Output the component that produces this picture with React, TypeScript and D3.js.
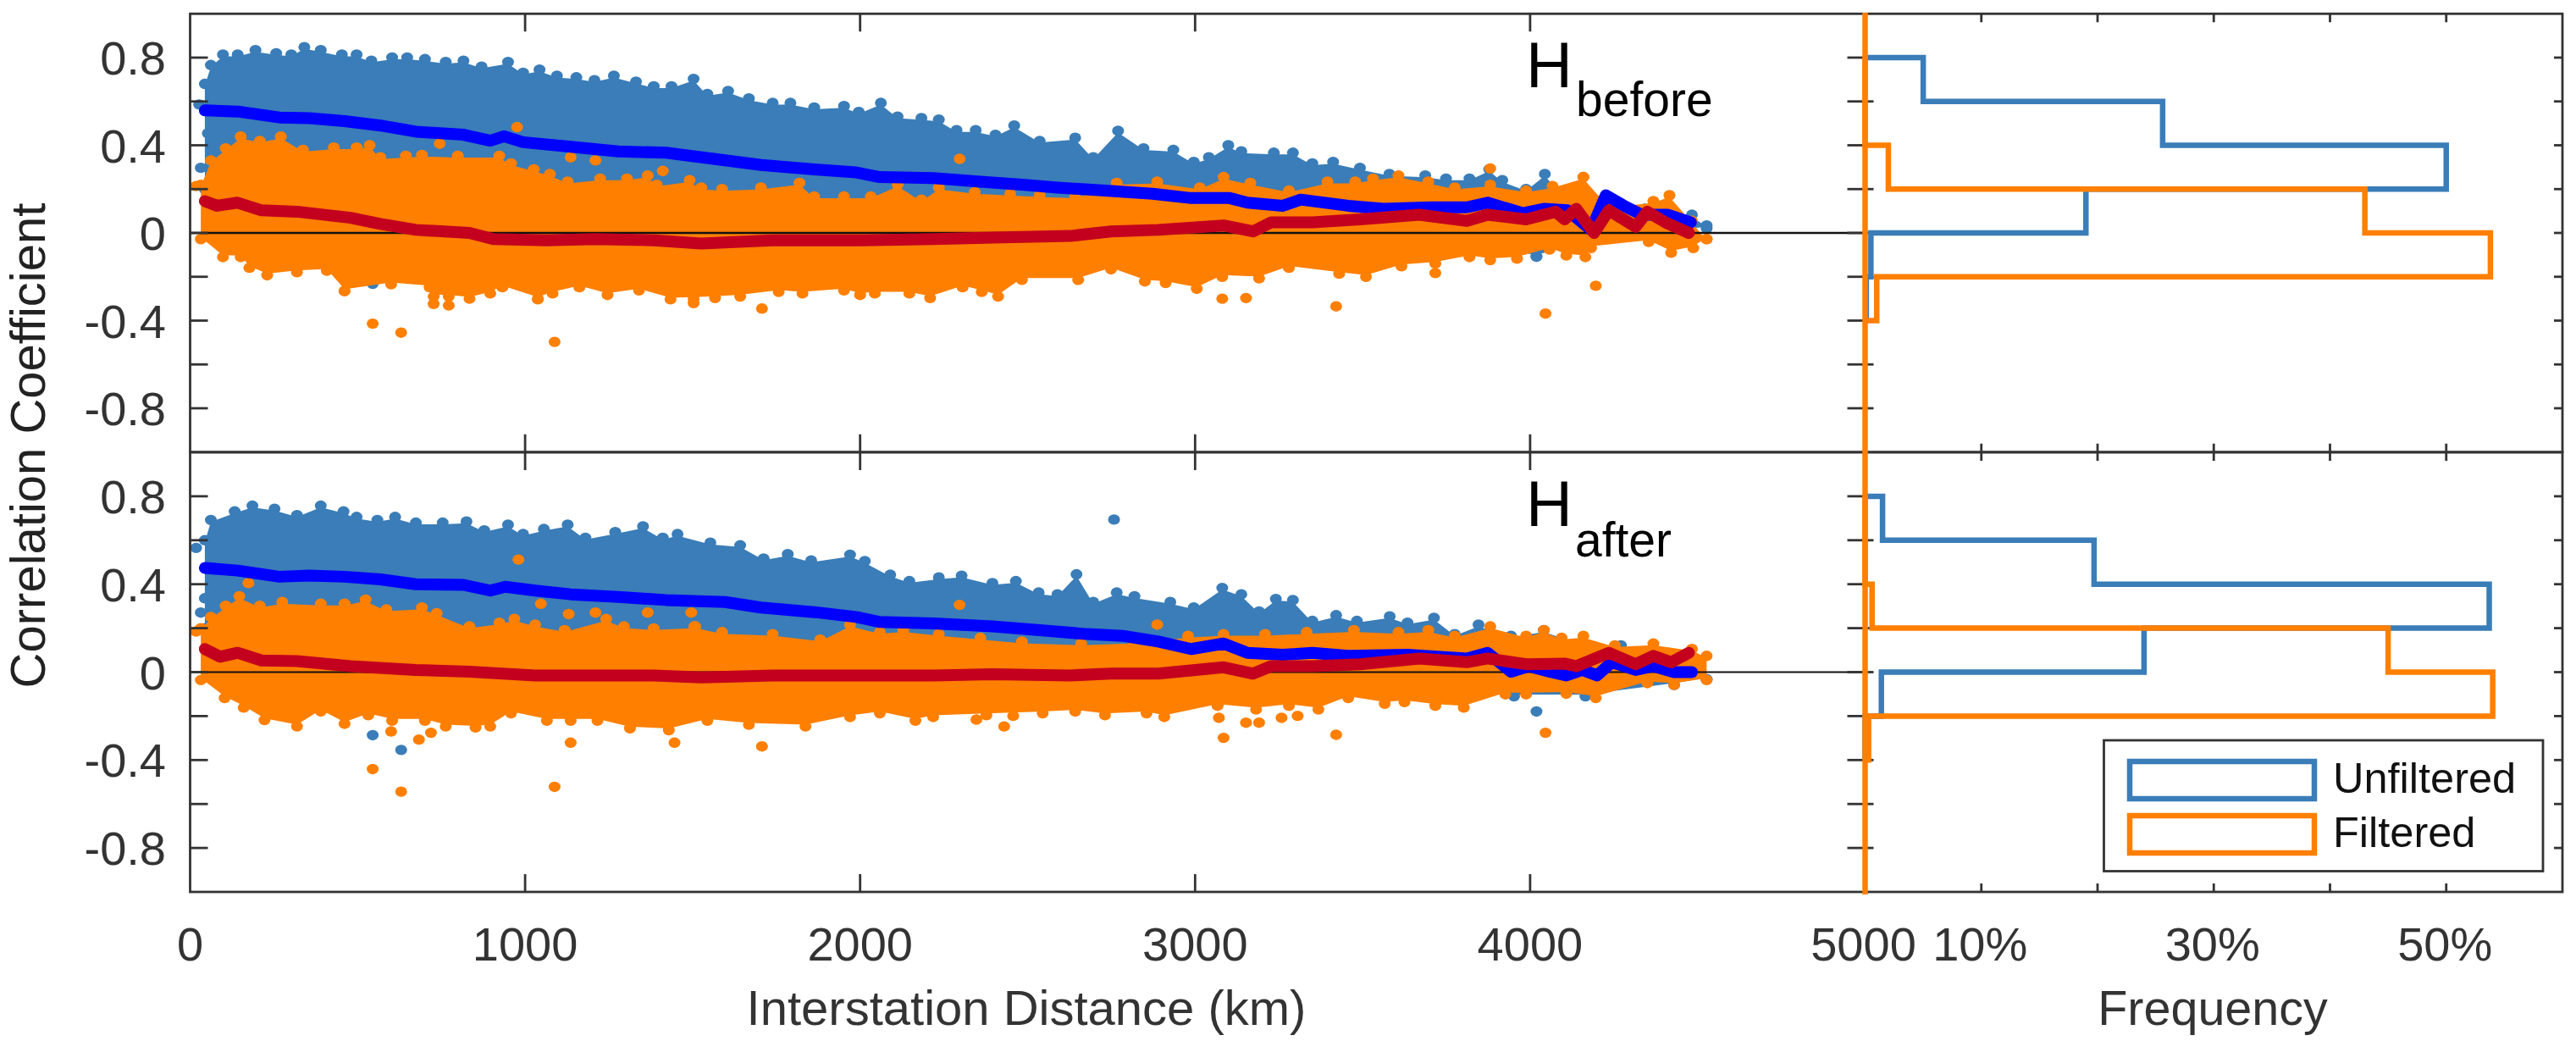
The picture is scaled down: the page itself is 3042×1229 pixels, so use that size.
import React from "react";
import * as d3 from "d3";

type Pt = [number, number];

const colors = { blue: "#3a7db8", orange: "#ff7f00", lineBlue: "#0000ff", lineRed: "#c4001f", ink: "#333333" };

// H before: edges of the point clouds [km, r]
const beforeBlueTop: Pt[] = [[44,.68],[62,.766],[98,.814],[142,.814],[195,.834],[257,.82],[302,.814],[341,.848],[390,.834],[453,.814],[497,.814],[541,.786],[603,.8],[648,.8],[701,.793],[763,.78],[816,.786],[870,.759],[949,.78],[994,.731],[1043,.745],[1095,.717],[1153,.71],[1207,.697],[1265,.717],[1331,.69],[1384,.669],[1437,.669],[1503,.703],[1544,.634],[1606,.648],[1668,.614],[1739,.593],[1792,.593],[1863,.572],[1952,.579],[1996,.552],[2062,.593],[2112,.531],[2183,.524],[2235,.517],[2288,.469],[2345,.469],[2404,.448],[2460,.49],[2536,.42],[2642,.434],[2696,.345],[2770,.466],[2846,.386],[2935,.379],[2996,.324],[3041,.345],[3099,.4],[3138,.372],[3235,.366],[3292,.366],[3350,.317],[3412,.324],[3492,.297],[3580,.269],[3687,.262],[3749,.248],[3819,.248],[3878,.29],[3917,.241],[3988,.2],[4044,.269],[4094,.179],[4159,.193],[4235,.166],[4342,.11],[4412,.11],[4483,.083],[4527,.034]];
const beforeBlueBottom: Pt[] = [[44,.2],[500,-.1],[3000,-.1],[3700,-.06],[3900,-.08],[4019,-.108],[4200,-.03],[4527,.02]];
const beforeOrangeTop: Pt[] = [[32,.22],[62,.331],[106,.386],[151,.44],[208,.42],[271,.44],[337,.379],[429,.39],[497,.39],[536,.4],[568,.345],[644,.352],[692,.356],[799,.352],[923,.352],[958,.317],[1026,.29],[1074,.269],[1127,.234],[1224,.248],[1304,.248],[1366,.262],[1393,.22],[1491,.241],[1526,.207],[1588,.2],[1704,.207],[1819,.228],[1863,.166],[1952,.166],[2032,.166],[2112,.22],[2183,.152],[2235,.207],[2342,.186],[2448,.179],[2536,.172],[2642,.166],[2766,.228],[2887,.234],[3014,.207],[3085,.255],[3165,.228],[3280,.193],[3395,.234],[3478,.234],[3531,.248],[3607,.262],[3696,.234],[3775,.207],[3881,.22],[3988,.193],[4067,.214],[4159,.255],[4235,.124],[4368,.145],[4416,.172],[4483,.055],[4527,-.028]];
const beforeOrangeBottom: Pt[] = [[32,-.028],[98,-.11],[151,-.11],[177,-.159],[230,-.193],[319,-.179],[408,-.172],[461,-.265],[600,-.234],[715,-.248],[727,-.29],[772,-.29],[834,-.3],[896,-.276],[932,-.248],[1038,-.3],[1082,-.276],[1162,-.248],[1246,-.283],[1340,-.262],[1434,-.303],[1503,-.3],[1567,-.297],[1642,-.29],[1757,-.269],[1828,-.276],[1952,-.262],[2000,-.283],[2044,-.276],[2147,-.276],[2209,-.297],[2306,-.248],[2363,-.269],[2412,-.29],[2483,-.214],[2651,-.214],[2749,-.166],[2850,-.221],[2912,-.228],[3005,-.255],[3081,-.2],[3191,-.207],[3280,-.159],[3430,-.186],[3510,-.2],[3616,-.152],[3717,-.14],[3819,-.11],[3881,-.124],[3961,-.117],[4058,-.076],[4108,-.103],[4165,-.11],[4182,-.069],[4354,-.041],[4421,-.09],[4487,-.069],[4527,-.028]];
const beforeBlueStray: Pt[] = [[27,.586],[53,.455],[32,.297],[545,-.232],[4019,-.108]];
const beforeOrangeStray: Pt[] = [[18,.214],[745,.407],[976,.483],[1136,.345],[1210,.331],[1411,.283],[2297,.338],[3881,.294],[4159,.255],[545,-.414],[630,-.455],[1088,-.497],[727,-.324],[772,-.331],[1038,-.303],[1503,-.32],[1707,-.345],[3081,-.3],[3152,-.297],[3421,-.335],[3717,-.183],[4046,-.368],[4196,-.241],[461,-.265]];
const beforeBlueMean: Pt[] = [[44,.559],[142,.554],[266,.527],[355,.524],[461,.51],[568,.49],[674,.462],[816,.448],[896,.421],[937,.441],[994,.414],[1136,.393],[1278,.372],[1420,.366],[1562,.338],[1704,.31],[1863,.29],[1988,.276],[2059,.255],[2218,.25],[2359,.234],[2483,.22],[2589,.207],[2731,.193],[2873,.179],[2988,.159],[3103,.159],[3156,.138],[3262,.124],[3315,.152],[3457,.124],[3563,.11],[3704,.117],[3811,.117],[3873,.138],[3979,.09],[4041,.11],[4112,.103],[4182,.014],[4226,.172],[4280,.124],[4333,.083],[4412,.083],[4480,.048]];
const beforeRedMean: Pt[] = [[44,.145],[80,.124],[142,.138],[213,.103],[319,.097],[479,.069],[568,.041],[674,.014],[834,0],[905,-.028],[1065,-.034],[1207,-.028],[1384,-.034],[1526,-.048],[1739,-.034],[2005,-.034],[2218,-.028],[2395,-.021],[2627,-.014],[2749,.007],[2890,.014],[3085,.034],[3173,.007],[3227,.048],[3350,.048],[3492,.062],[3669,.083],[3811,.055],[3873,.083],[3988,.062],[4076,.097],[4103,.062],[4138,.11],[4191,0],[4235,.103],[4315,.028],[4350,.097],[4404,.048],[4474,0]];

// H after
const afterBlueTop: Pt[] = [[44,.6],[62,.692],[133,.731],[186,.757],[252,.743],[319,.714],[390,.757],[458,.731],[497,.706],[559,.692],[612,.706],[674,.68],[754,.68],[825,.685],[878,.645],[949,.671],[994,.628],[1056,.651],[1127,.671],[1180,.611],[1269,.637],[1352,.663],[1411,.611],[1455,.628],[1553,.589],[1642,.577],[1712,.517],[1784,.537],[1854,.508],[1970,.534],[2014,.505],[2090,.443],[2147,.414],[2235,.431],[2303,.439],[2395,.405],[2465,.414],[2533,.362],[2589,.354],[2646,.445],[2696,.319],[2766,.362],[2819,.345],[2926,.319],[2996,.294],[3081,.383],[3138,.354],[3191,.276],[3241,.333],[3292,.328],[3350,.233],[3421,.259],[3483,.233],[3581,.254],[3634,.225],[3713,.247],[3775,.173],[3846,.216],[3943,.165],[4041,.191],[4156,.13],[4271,.122],[4412,.088],[4492,.062],[4527,-.033]];
const afterBlueBottom: Pt[] = [[44,.2],[500,-.1],[3000,-.1],[3731,-.11],[3952,-.11],[4165,-.11],[4430,-.058],[4527,-.033]];
const afterOrangeTop: Pt[] = [[32,.2],[62,.251],[106,.302],[147,.345],[208,.302],[275,.319],[390,.311],[461,.311],[524,.33],[586,.285],[692,.294],[736,.268],[834,.208],[923,.225],[968,.242],[1030,.216],[1118,.191],[1242,.242],[1295,.208],[1384,.199],[1508,.208],[1588,.182],[1739,.173],[1881,.148],[1970,.216],[2059,.182],[2129,.191],[2235,.173],[2359,.156],[2483,.139],[2660,.13],[2819,.139],[2979,.165],[3085,.173],[3209,.173],[3333,.182],[3474,.191],[3607,.182],[3696,.191],[3775,.165],[3881,.208],[3988,.165],[4041,.191],[4094,.156],[4159,.165],[4253,.122],[4368,.13],[4483,.105],[4527,.074]];
const afterOrangeBottom: Pt[] = [[32,-.036],[103,-.118],[160,-.161],[222,-.218],[319,-.247],[390,-.179],[461,-.235],[532,-.196],[603,-.221],[701,-.221],[763,-.247],[852,-.252],[896,-.247],[958,-.187],[1065,-.221],[1136,-.221],[1216,-.221],[1313,-.256],[1429,-.264],[1544,-.221],[1668,-.239],[1837,-.247],[1970,-.204],[2059,-.187],[2165,-.221],[2218,-.204],[2377,-.196],[2545,-.187],[2642,-.179],[2731,-.196],[2855,-.187],[2908,-.204],[3067,-.153],[3182,-.17],[3280,-.153],[3368,-.17],[3457,-.118],[3566,-.144],[3625,-.136],[3717,-.153],[3802,-.161],[3926,-.101],[3988,-.101],[4108,-.098],[4196,-.118],[4350,-.05],[4430,-.058],[4527,-.036]];
const afterBlueStray: Pt[] = [[18,.565],[44,.336],[32,.271],[2758,.694],[4019,-.179],[545,-.287],[630,-.354],[3067,-.149]];
const afterOrangeStray: Pt[] = [[18,.185],[174,.405],[980,.512],[1047,.311],[1130,.264],[1210,.271],[1366,.271],[1496,.271],[1505,.208],[545,-.441],[630,-.544],[1088,-.522],[1136,-.321],[1446,-.321],[1707,-.338],[683,-.307],[719,-.276],[600,-.27],[2297,.306],[2887,.216],[3085,-.299],[3071,-.208],[3152,-.23],[3191,-.23],[3258,-.208],[3306,-.199],[3421,-.285],[4046,-.276],[2430,-.247],[2347,-.216],[2457,-.199]];
const afterBlueMean: Pt[] = [[44,.474],[142,.462],[266,.434],[355,.439],[461,.434],[568,.422],[674,.4],[816,.397],[896,.371],[941,.388],[1030,.371],[1136,.354],[1278,.342],[1420,.328],[1597,.319],[1704,.294],[1863,.273],[1988,.251],[2059,.228],[2218,.222],[2395,.208],[2536,.191],[2677,.173],[2784,.165],[2890,.139],[2988,.105],[3085,.13],[3156,.088],[3262,.079],[3350,.088],[3457,.074],[3634,.079],[3811,.062],[3873,.088],[3943,.002],[3996,.027],[4058,.002],[4108,-.015],[4156,.01],[4200,-.015],[4244,.045],[4315,.01],[4368,.027],[4430,0],[4483,0]];
const afterRedMean: Pt[] = [[44,.105],[89,.07],[142,.088],[213,.053],[319,.05],[479,.027],[674,.01],[834,.002],[1030,-.015],[1207,-.015],[1384,-.015],[1526,-.024],[1739,-.015],[2005,-.015],[2218,-.015],[2395,-.01],[2627,-.015],[2749,-.007],[2890,-.007],[3085,.022],[3173,-.007],[3227,.027],[3350,.027],[3492,.036],[3669,.062],[3811,.045],[3873,.062],[3988,.036],[4103,.039],[4138,.027],[4235,.088],[4315,.036],[4368,.074],[4421,.045],[4474,.088]];

// histogram bins, each covers [lo, lo + 0.2], percent of pairs
const binLows = [0.6, 0.4, 0.2, 0, -0.2, -0.4];
const beforeUnfiltered = [5, 25.6, 50, 19, 0.5, 0.1];
const beforeFiltered = [0, 0, 2, 43, 53.8, 1];
const afterUnfiltered = [1.5, 19.7, 53.7, 24, 1.4, 0];
const afterFiltered = [0, 0, 0.6, 45, 54, 0.3];

const xTicks = [0, 1000, 2000, 3000, 4000, 5000];
const yTicks = [0.8, 0.6, 0.4, 0.2, 0, -0.2, -0.4, -0.6, -0.8];
const yLabels = [0.8, 0.4, 0, -0.4, -0.8];
const pctTicks = [10, 20, 30, 40, 50];
const pctLabels = [10, 30, 50];

const font = "'Liberation Sans', Arial, sans-serif";
const x = d3.scaleLinear().domain([0, 5000]).range([224.5, 2202.5]);
const pct = d3.scaleLinear().domain([0, 60]).range([2202.5, 3026]);

function histPoints(values: number[], y: any) {
  const pts: Pt[] = [[pct(0), y(0.8)]];
  binLows.forEach((lo, i) => {
    pts.push([pct(values[i]), y(lo + 0.2)], [pct(values[i]), y(lo)]);
  });
  pts.push([pct(0), y(-0.4)]);
  return pts;
}

function Dots({ data, color, y }: { data: Pt[]; color: string; y: any }) {
  return (
    <g>
      {data.map((d, i) => (
        <ellipse key={i} cx={x(d[0])} cy={y(d[1])} rx={7} ry={6.2} fill={color} />
      ))}
    </g>
  );
}

function Cloud({ top, bottom, color, y }: { top: Pt[]; bottom: Pt[]; color: string; y: any }) {
  // body sits a little inside the edge readings so the edge dots stick out of it
  const edge: Pt[] = [
    ...top.map((d): Pt => [x(d[0]), y(d[1]) + 2]),
    ...[...bottom].reverse().map((d): Pt => [x(d[0]), y(d[1]) - 2]),
  ];
  return (
    <g>
      <path d={d3.line()(edge) as string} fill={color} />
      <Dots data={top} color={color} y={y} />
      <Dots data={bottom} color={color} y={y} />
    </g>
  );
}

function Panel(props: {
  y: any;
  blueTop: Pt[];
  blueBottom: Pt[];
  orangeTop: Pt[];
  orangeBottom: Pt[];
  blueStray: Pt[];
  orangeStray: Pt[];
  blueMean: Pt[];
  redMean: Pt[];
  unfiltered: number[];
  filtered: number[];
  zeroWidth: number;
}) {
  const { y } = props;
  const meanLine = d3.line<Pt>().x((d) => x(d[0])).y((d) => y(d[1]));
  const top = y(1);
  const bottom = y(-1);
  return (
    <g>
      <Cloud top={props.blueTop} bottom={props.blueBottom} color={colors.blue} y={y} />
      <Dots data={props.blueStray} color={colors.blue} y={y} />
      <Cloud top={props.orangeTop} bottom={props.orangeBottom} color={colors.orange} y={y} />
      <Dots data={props.orangeStray} color={colors.orange} y={y} />
      <line x1={x(0)} x2={x(5000)} y1={y(0)} y2={y(0)} stroke="#111" strokeWidth={props.zeroWidth} />
      <path d={meanLine(props.blueMean) as string} fill="none" stroke={colors.lineBlue} strokeWidth={14} strokeLinejoin="round" strokeLinecap="round" />
      <path d={meanLine(props.redMean) as string} fill="none" stroke={colors.lineRed} strokeWidth={14} strokeLinejoin="round" strokeLinecap="round" />

      <g stroke={colors.ink} strokeWidth={2.8}>
        <rect x={x(0)} y={top} width={pct(60) - x(0)} height={bottom - top} fill="none" />
        <line x1={x(5000)} x2={x(5000)} y1={top} y2={bottom} />
        {xTicks.slice(1, 5).map((t) => (
          <g key={t}>
            <line x1={x(t)} x2={x(t)} y1={top} y2={top + 21} />
            <line x1={x(t)} x2={x(t)} y1={bottom} y2={bottom - 21} />
          </g>
        ))}
        {pctTicks.map((t) => (
          <g key={t}>
            <line x1={pct(t)} x2={pct(t)} y1={top} y2={top + 10} />
            <line x1={pct(t)} x2={pct(t)} y1={bottom} y2={bottom - 10} />
          </g>
        ))}
        {yTicks.map((t) => (
          <g key={t}>
            <line x1={x(0)} x2={x(0) + 21} y1={y(t)} y2={y(t)} />
            <line x1={x(5000) - 21} x2={x(5000) + 10} y1={y(t)} y2={y(t)} />
            <line x1={pct(60) - 10} x2={pct(60)} y1={y(t)} y2={y(t)} />
          </g>
        ))}
      </g>

      <path d={d3.line()(histPoints(props.unfiltered, y)) as string} fill="none" stroke={colors.blue} strokeWidth={6.5} />
      <path d={d3.line()(histPoints(props.filtered, y)) as string} fill="none" stroke={colors.orange} strokeWidth={6.5} />

      {yLabels.map((t) => (
        <text key={t} x={196} y={y(t)} dy="0.36em" textAnchor="end" fontSize={56} fill={colors.ink}>
          {t}
        </text>
      ))}
    </g>
  );
}

export default function App() {
  const yBefore = d3.scaleLinear().domain([-1, 1]).range([533.75, 16.25]);
  const yAfter = d3.scaleLinear().domain([-1, 1]).range([1053, 534]);
  return (
    <svg width={3042} height={1229} style={{ position: "absolute", left: 0, top: 0 }} fontFamily={font}>
      <rect width={3042} height={1229} fill="#fff" />
      <Panel
        y={yBefore}
        blueTop={beforeBlueTop}
        blueBottom={beforeBlueBottom}
        orangeTop={beforeOrangeTop}
        orangeBottom={beforeOrangeBottom}
        blueStray={beforeBlueStray}
        orangeStray={beforeOrangeStray}
        blueMean={beforeBlueMean}
        redMean={beforeRedMean}
        unfiltered={beforeUnfiltered}
        filtered={beforeFiltered}
        zeroWidth={2.5}
      />
      <Panel
        y={yAfter}
        blueTop={afterBlueTop}
        blueBottom={afterBlueBottom}
        orangeTop={afterOrangeTop}
        orangeBottom={afterOrangeBottom}
        blueStray={afterBlueStray}
        orangeStray={afterOrangeStray}
        blueMean={afterBlueMean}
        redMean={afterRedMean}
        unfiltered={afterUnfiltered}
        filtered={afterFiltered}
        zeroWidth={1.8}
      />
      <line x1={pct(0)} x2={pct(0)} y1={15} y2={1056} stroke={colors.orange} strokeWidth={6.5} />

      {xTicks.map((t) => (
        <text key={t} x={x(t) - (t === 5000 ? 2 : 0)} y={1134} textAnchor="middle" fontSize={56} fill={colors.ink}>
          {t}
        </text>
      ))}
      {pctLabels.map((t) => (
        <text key={t} x={pct(t) - 1.5} y={1134} textAnchor="middle" fontSize={56} fill={colors.ink}>
          {t}%
        </text>
      ))}
      <text x={1212} y={1210} textAnchor="middle" fontSize={58} fill={colors.ink}>
        Interstation Distance (km)
      </text>
      <text x={2613} y={1210} textAnchor="middle" fontSize={57.5} fill={colors.ink}>
        Frequency
      </text>
      <text transform="translate(53,526) rotate(-90)" textAnchor="middle" fontSize={58} fill="#222">
        Correlation Coefficient
      </text>

      <text x={1802} y={103} fontSize={76} fill="#000">H</text>
      <text x={1861} y={137} fontSize={57} fill="#000">before</text>
      <text x={1802} y={621} fontSize={76} fill="#000">H</text>
      <text x={1860} y={657} fontSize={57} fill="#000">after</text>

      <rect x={2484.5} y={874} width={518.5} height={154.5} fill="#fff" stroke={colors.ink} strokeWidth={2.8} />
      <rect x={2515} y={899} width={218} height={44} fill="none" stroke={colors.blue} strokeWidth={6.5} />
      <rect x={2515} y={963} width={218} height={44} fill="none" stroke={colors.orange} strokeWidth={6.5} />
      <text x={2755} y={936} fontSize={50.5} fill="#111">Unfiltered</text>
      <text x={2755} y={1000} fontSize={50.5} fill="#111">Filtered</text>
    </svg>
  );
}
